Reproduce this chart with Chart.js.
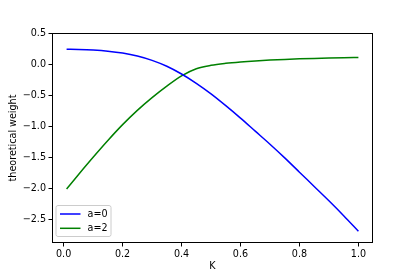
<!DOCTYPE html>
<html>
<head>
<meta charset="utf-8">
<script src="https://cdn.jsdelivr.net/npm/chart.js@4"></script>
<style>
  html, body { margin: 0; padding: 0; background: #fff; }
  #wrap { width: 415px; height: 277px; }
</style>
</head>
<body>
<div id="wrap"><canvas id="chart"></canvas></div>
<script>
// values
const kValues = [0.01, 0.05, 0.1, 0.15, 0.2, 0.25, 0.3, 0.35, 0.4, 0.45, 0.5,
  0.55, 0.6, 0.65, 0.7, 0.75, 0.8, 0.85, 0.9, 0.95, 1.0];
const weightA0 = [0.24, 0.236, 0.226, 0.208, 0.178, 0.13, 0.06, -0.035, -0.16, -0.31, -0.48,
  -0.67, -0.87, -1.08, -1.29, -1.51, -1.74, -1.97, -2.2, -2.44, -2.69];
const weightA2 = [-2.01, -1.78, -1.5, -1.23, -0.975, -0.745, -0.54, -0.355, -0.19, -0.075, -0.02,
  0.012, 0.034, 0.051, 0.064, 0.075, 0.084, 0.091, 0.097, 0.102, 0.106];
const seriesLabels = ['a=0', 'a=2'];
const xTicks = [0, 0.2, 0.4, 0.6, 0.8, 1.0];
const yTicks = [0.5, 0, -0.5, -1, -1.5, -2, -2.5];

const FONT = { family: 'DejaVu Sans', size: 9.6 };
Chart.defaults.color = '#000';
Chart.defaults.font.family = FONT.family;

const toPoints = (ys) => kValues.map((k, i) => ({ x: k, y: ys[i] }));
const fmt = (v) => v.toFixed(1).replace('-', '\u2212');

// box around the plot, like matplotlib spines
const frame = {
  id: 'frame',
  afterDatasetsDraw(chart) {
    const { ctx, chartArea: a } = chart;
    ctx.save();
    ctx.strokeStyle = '#000';
    ctx.lineWidth = 1;
    ctx.strokeRect(Math.round(a.left) + 0.5, Math.round(a.top) + 0.5,
      Math.round(a.right - a.left) - 1, Math.round(a.bottom - a.top) - 1);
    ctx.restore();
  }
};

// legend box in the lower left corner of the plot
const innerLegend = {
  id: 'innerLegend',
  afterDraw(chart) {
    const { ctx, chartArea: a } = chart;
    const sets = chart.data.datasets;
    const rowH = 14.3;
    const w = 55, h = 31;
    const x0 = a.left + 4, y0 = a.bottom - 6.5 - h;
    ctx.save();
    ctx.fillStyle = 'rgba(255,255,255,0.8)';
    ctx.strokeStyle = '#cccccc';
    ctx.lineWidth = 1;
    ctx.beginPath();
    ctx.roundRect(x0, y0, w, h, 2);
    ctx.fill();
    ctx.stroke();
    ctx.font = `${FONT.size}px ${FONT.family}`;
    ctx.textBaseline = 'middle';
    sets.forEach((ds, i) => {
      const y = y0 + 8.5 + i * rowH;
      ctx.strokeStyle = ds.borderColor;
      ctx.lineWidth = 1.5;
      ctx.beginPath();
      ctx.moveTo(x0 + 4, y);
      ctx.lineTo(x0 + 24.5, y);
      ctx.stroke();
      ctx.fillStyle = '#000';
      ctx.fillText(ds.label, x0 + 31.5, y);
    });
    ctx.restore();
  }
};

new Chart(document.getElementById('chart'), {
  type: 'line',
  data: {
    datasets: [
      {
        label: seriesLabels[0],
        data: toPoints(weightA0),
        borderColor: '#0000ff',
        borderWidth: 1.5,
        pointRadius: 0,
        cubicInterpolationMode: 'monotone',
      },
      {
        label: seriesLabels[1],
        data: toPoints(weightA2),
        borderColor: '#008000',
        borderWidth: 1.5,
        pointRadius: 0,
        cubicInterpolationMode: 'monotone',
      },
    ],
  },
  options: {
    responsive: true,
    maintainAspectRatio: false,
    animation: false,
    layout: { padding: { top: 33, right: 42, left: 0, bottom: 0 } },
    plugins: { legend: { display: false }, tooltip: { enabled: false } },
    scales: {
      x: {
        type: 'linear',
        min: -0.0395,
        max: 1.0495,
        afterBuildTicks: (scale) => { scale.ticks = xTicks.map((v) => ({ value: v })); },
        afterFit: (scale) => { scale.height = 34; },
        ticks: { font: FONT, padding: 2, maxRotation: 0, callback: (v) => fmt(v) },
        grid: { drawOnChartArea: false, drawTicks: true, tickLength: 3.5, color: '#000' },
        border: { display: false },
        title: { display: true, text: 'K', font: FONT, padding: { top: 0, bottom: 5 } },
      },
      y: {
        min: -2.88,
        max: 0.5,
        afterBuildTicks: (scale) => { scale.ticks = yTicks.map((v) => ({ value: v })); },
        afterFit: (scale) => { scale.width = 52; },
        ticks: { font: FONT, padding: 2.5, callback: (v) => fmt(v) },
        grid: { drawOnChartArea: false, drawTicks: true, tickLength: 3.5, color: '#000' },
        border: { display: false },
        title: { display: true, text: 'theoretical weight', font: FONT, padding: { top: 7.5, bottom: 0 } },
      },
    },
  },
  plugins: [frame, innerLegend],
});
</script>
</body>
</html>
